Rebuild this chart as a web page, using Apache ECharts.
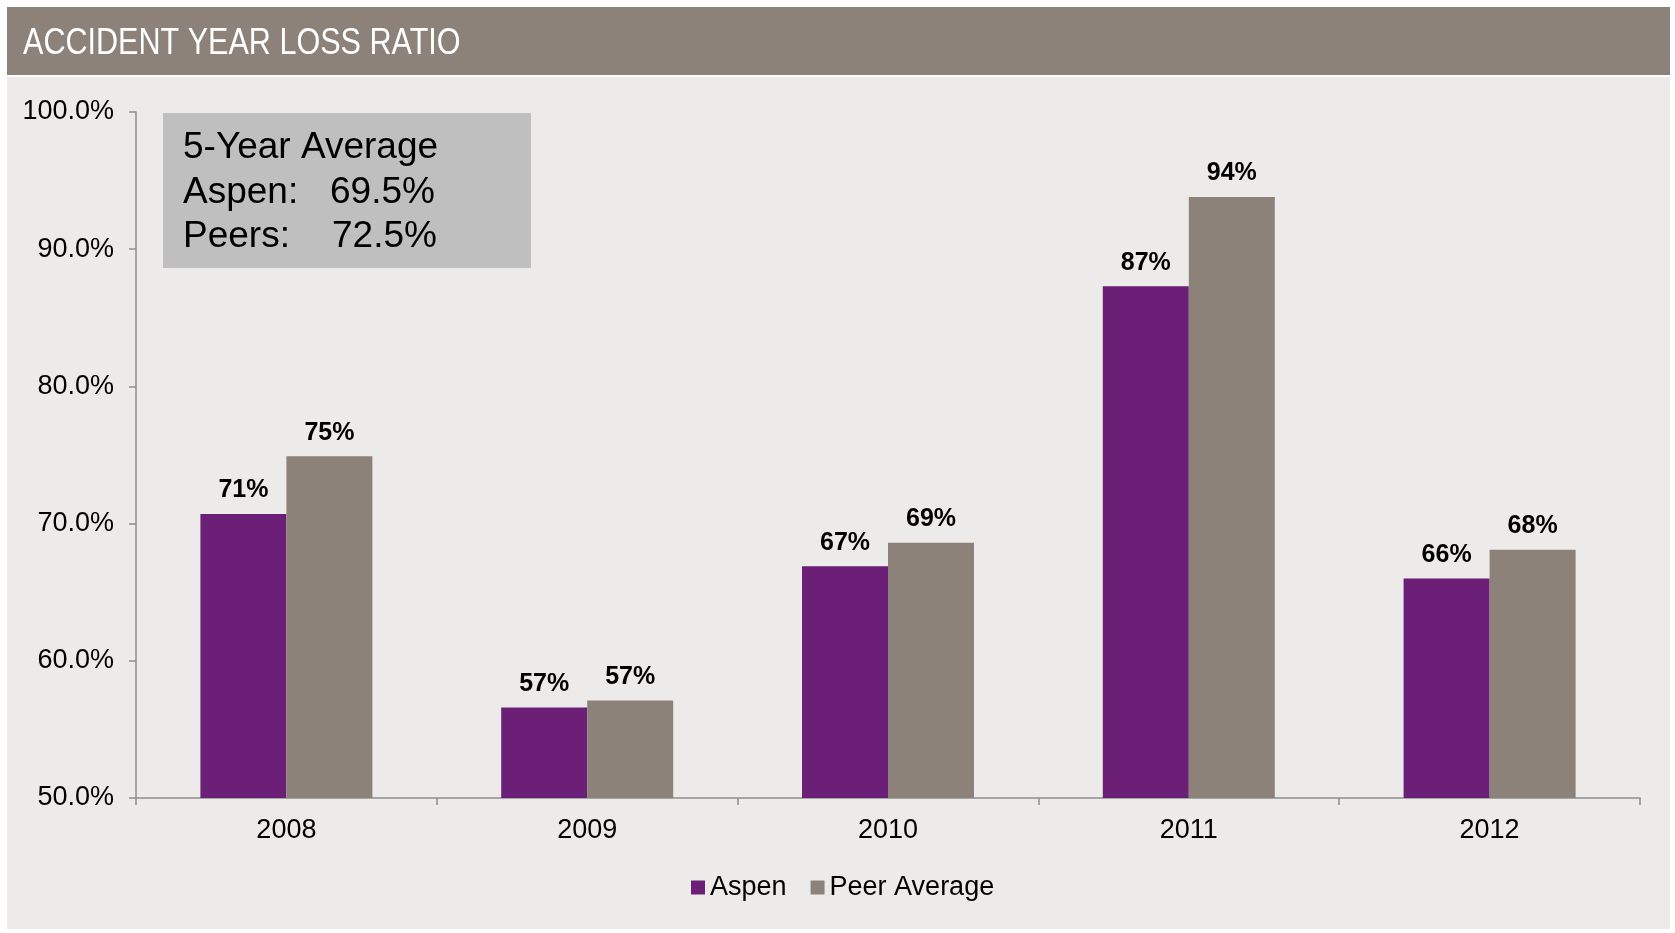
<!DOCTYPE html>
<html>
<head>
<meta charset="utf-8">
<script src="https://cdn.jsdelivr.net/npm/echarts@6/dist/echarts.min.js"></script>
<style>
html,body{margin:0;padding:0;background:#fff;}
#chart{width:1675px;height:933px;}
</style>
</head>
<body>
<div id="chart"></div>
<script>
const categories = ['2008', '2009', '2010', '2011', '2012'];
const aspenValues = [70.7, 56.6, 66.9, 87.3, 66.0];
const peerValues = [74.9, 57.1, 68.6, 93.8, 68.1];
const seriesNames = ['Aspen', 'Peer Average'];
const titleText = 'ACCIDENT YEAR LOSS RATIO';
const boxLines = [['5-Year Average', ''], ['Aspen:', '69.5%'], ['Peers:', '72.5%']];

const purple = '#6B1F76';
const taupe = '#8C8279';
const font = '"Liberation Sans", Arial, sans-serif';

const chart = echarts.init(document.getElementById('chart'), null, {renderer: 'canvas'});

const labelCfg = {
  show: true,
  position: 'top',
  distance: 11,
  color: '#000',
  fontFamily: font,
  fontWeight: 'bold',
  fontSize: 25,
  formatter: p => Math.round(p.value) + '%'
};

const boxFont = '37px ' + font;

const option = {
  backgroundColor: '#ffffff',
  animation: false,
  textStyle: {fontFamily: font},
  graphic: [
    {type: 'rect', z: -10, silent: true, shape: {x: 7, y: 77, width: 1663, height: 852}, style: {fill: '#ECEBE9'}},
    {type: 'rect', z: -10, silent: true, shape: {x: 7, y: 7, width: 1663, height: 68}, style: {fill: taupe}},
    {type: 'text', z: 5, silent: true, x: 23, y: 44, scaleX: 0.826, style: {text: titleText, fill: '#fff', font: '37px ' + font, verticalAlign: 'middle'}},
    {type: 'rect', z: 5, silent: true, shape: {x: 163, y: 113, width: 368, height: 155}, style: {fill: '#BFBFBF'}},
    {type: 'text', z: 6, silent: true, x: 183, y: 148, style: {text: boxLines[0][0], fill: '#000', font: boxFont, verticalAlign: 'middle'}},
    {type: 'text', z: 6, silent: true, x: 183, y: 193, style: {text: boxLines[1][0], fill: '#000', font: boxFont, verticalAlign: 'middle'}},
    {type: 'text', z: 6, silent: true, x: 330, y: 193, style: {text: boxLines[1][1], fill: '#000', font: boxFont, verticalAlign: 'middle'}},
    {type: 'text', z: 6, silent: true, x: 183, y: 237, style: {text: boxLines[2][0], fill: '#000', font: boxFont, verticalAlign: 'middle'}},
    {type: 'text', z: 6, silent: true, x: 332, y: 237, style: {text: boxLines[2][1], fill: '#000', font: boxFont, verticalAlign: 'middle'}}
  ],
  grid: {left: 136, right: 35, top: 112, bottom: 135, containLabel: false},
  legend: {
    data: seriesNames,
    left: 686,
    top: 869,
    icon: 'rect',
    itemWidth: 14,
    itemHeight: 14,
    itemGap: 24,
    textStyle: {fontSize: 27, color: '#000', fontFamily: font}
  },
  xAxis: {
    type: 'category',
    data: categories,
    boundaryGap: true,
    axisLine: {show: true, lineStyle: {color: '#8E8E8E', width: 1.5}},
    axisTick: {show: true, interval: 0, length: 7, lineStyle: {color: '#8E8E8E', width: 1.5}},
    axisLabel: {color: '#000', fontSize: 27, margin: 19, fontFamily: font},
    splitLine: {show: false}
  },
  yAxis: {
    type: 'value',
    min: 50,
    max: 100,
    interval: 10,
    axisLine: {show: true, lineStyle: {color: '#8E8E8E', width: 1.5}},
    axisTick: {show: true, length: 7, lineStyle: {color: '#8E8E8E', width: 1.5}},
    axisLabel: {color: '#000', fontSize: 27, margin: 22, fontFamily: font, formatter: v => v.toFixed(1) + '%'},
    splitLine: {show: false}
  },
  series: [
    {name: seriesNames[0], type: 'bar', data: aspenValues, barWidth: 86, barGap: '0%', itemStyle: {color: purple}, label: labelCfg},
    {name: seriesNames[1], type: 'bar', data: peerValues, barWidth: 86, barGap: '0%', itemStyle: {color: taupe}, label: labelCfg}
  ]
};
chart.setOption(option);
</script>
</body>
</html>
